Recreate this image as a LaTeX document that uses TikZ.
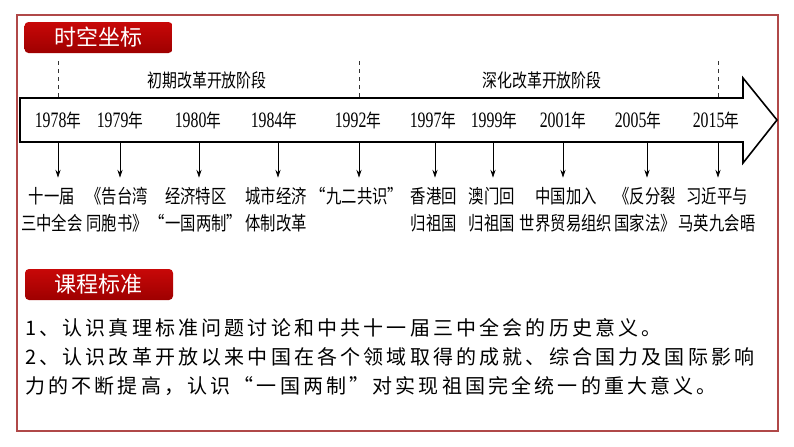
\documentclass[tikz,border=0pt]{standalone}
\usepackage{fontspec}
\usetikzlibrary{arrows.meta}
\setmainfont{Liberation Serif}
\newfontfamily\cjk{Noto Sans CJK SC}
\newfontfamily\cjkn[FakeStretch=0.8]{Noto Sans CJK SC}
\newfontfamily\numn[FakeStretch=0.72]{Liberation Serif}
\newfontfamily\cjks[LetterSpace=15.8]{Noto Sans CJK SC}
\definecolor{framered}{RGB}{176,72,72}
\definecolor{tagred}{RGB}{200,8,8}
\definecolor{tagdark}{RGB}{158,0,0}
\newcommand{\yr}[1]{{\numn\fontsize{16.5pt}{18pt}\selectfont #1}{\cjkn\fontsize{13.8pt}{16pt}\selectfont 年}}

\begin{document}
\begin{tikzpicture}[x=0.75pt,y=-0.75pt,
    tag/.style={rounded corners=3pt, top color=tagred, bottom color=tagdark,
      text=white, minimum width=111pt, minimum height=23.25pt, inner sep=0pt,
      font=\cjk\fontsize{16.5pt}{18pt}\selectfont},
    phase/.style={font=\cjkn\fontsize{14pt}{16pt}\selectfont},
    event/.style={align=center, anchor=north, inner sep=0pt,
      font=\cjkn\fontsize{14.4pt}{20pt}\selectfont},
    evarrow/.style={-{Stealth[length=6pt,width=4pt]}, line width=0.6pt, shorten >=7pt},
    divider/.style={dashed, line width=0.6pt, black!80}]
  \useasboundingbox (0,0) rectangle (794,447);
  % outer frame
  \draw[framered, line width=0.9pt] (17,15) rectangle (778,431);

  % time line
  \node[tag] (t1) at (98.5,37.5) {时空坐标};
  \foreach \x [count=\i] in {58,359,718}
    \draw[divider] (\x,61) -- (\x,98);
  \node[phase] (p1) at (207,80) {初期改革开放阶段};
  \node[phase] (p2) at (542,80) {深化改革开放阶段};
  \draw[line width=1.2pt, fill=white] (20,98) -- (743,98) -- (743,78) -- (777,120)
    -- (743,163) -- (743,142) -- (20,142) -- cycle;
  \foreach \x/\y in {58/1978,120/1979,198/1980,274/1984,358/1992,
                     433/1997,494/1999,563/2001,638/2005,716/2015}
    \node (y\y) at (\x,120) {\yr{\y}};

  % events under the arrow
  \foreach \ax/\lx/\txt [count=\i] in {
      58/52/{十一届\\三中全会},
      120/117/{《告台湾\\同胞书》},
      199/196/{经济特区\\“一国两制”},
      278/276/{城市经济\\体制改革},
      359/357/{“九二共识”},
      435/434/{香港回\\归祖国},
      493/492/{澳门回\\归祖国},
      563/566/{中国加入\\世界贸易组织},
      647/645/{《反分裂\\国家法》},
      718/717/{习近平与\\马英九会晤}} {
    \coordinate (a\i) at (\ax,142);
    \node[event] (e\i) at (\lx,187) {\txt};
    \draw[evarrow] (a\i) -- (a\i |- e\i.north);
  }

  % course standard
  \node[tag] (t2) at (99,284.5) {课程标准};
  \node[anchor=north west, align=left, inner sep=0pt,
    font=\cjks\fontsize{15pt}{21.75pt}\selectfont] (std) at (25,318)
    {1、认识真理标准问题讨论和中共十一届三中全会的历史意义。\\
     2、认识改革开放以来中国在各个领域取得的成就、综合国力及国际影响\\
     力的不断提高，认识“一国两制”对实现祖国完全统一的重大意义。};
\end{tikzpicture}
\end{document}
